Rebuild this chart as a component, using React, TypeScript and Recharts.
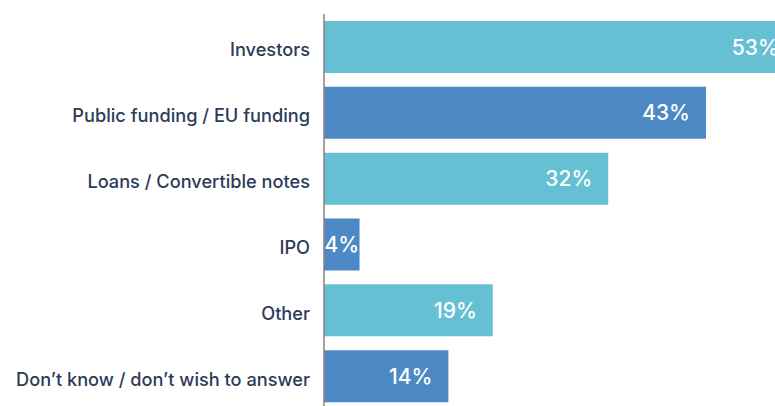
import React from "react";
import { BarChart, Bar, XAxis, YAxis, Cell, LabelList } from "recharts";

const categories = [
  "Investors",
  "Public funding / EU funding",
  "Loans / Convertible notes",
  "IPO",
  "Other",
  "Don\u2019t know / don\u2019t wish to answer",
];
const values = [53, 43, 32, 4, 19, 14];
const barColors = ["#66C0D4", "#4D89C4", "#66C0D4", "#4D89C4", "#66C0D4", "#4D89C4"];

const data = categories.map((name, i) => ({ name, value: values[i] }));

const FONT = "Inter, 'Open Sans', sans-serif";

const renderLabel = (props: any) => {
  const { x, y, width, height, value } = props;
  const small = width < 60;
  const tx = small ? x + width / 2 : x + width - 16;
  return (
    <text
      x={tx}
      y={y + height / 2}
      dy="0.36em"
      textAnchor={small ? "middle" : "end"}
      fill="#ffffff"
      fontFamily={FONT}
      fontSize={21}
      fontWeight={500}
    >
      {value}%
    </text>
  );
};

const renderTick = (props: any) => {
  const { x, y, payload } = props;
  return (
    <text
      x={x}
      y={y + 3}
      dy="0.355em"
      textAnchor="end"
      fill="#2D3B58"
      fontFamily={FONT}
      fontSize={18.2}
      fontWeight={500}
    >
      {payload.value}
    </text>
  );
};

export default function App() {
  return (
    <div
      style={{
        position: "fixed",
        left: 0,
        top: 0,
        width: 775,
        height: 406,
        overflow: "hidden",
        background: "#ffffff",
      }}
    >
      <BarChart
        width={857}
        height={409}
        data={data}
        layout="vertical"
        margin={{ top: 14, right: 0, bottom: 0, left: 0 }}
        barSize={52}
      >
        <XAxis type="number" domain={[0, 60]} hide />
        <YAxis
          type="category"
          dataKey="name"
          width={324}
          axisLine={{ stroke: "#8C807C", strokeWidth: 1.5 }}
          tickLine={false}
          tickMargin={8}
          interval={0}
          tick={renderTick}
        />
        <Bar dataKey="value" isAnimationActive={false}>
          {data.map((d, i) => (
            <Cell key={d.name} fill={barColors[i]} />
          ))}
          <LabelList dataKey="value" content={renderLabel} />
        </Bar>
      </BarChart>
    </div>
  );
}
